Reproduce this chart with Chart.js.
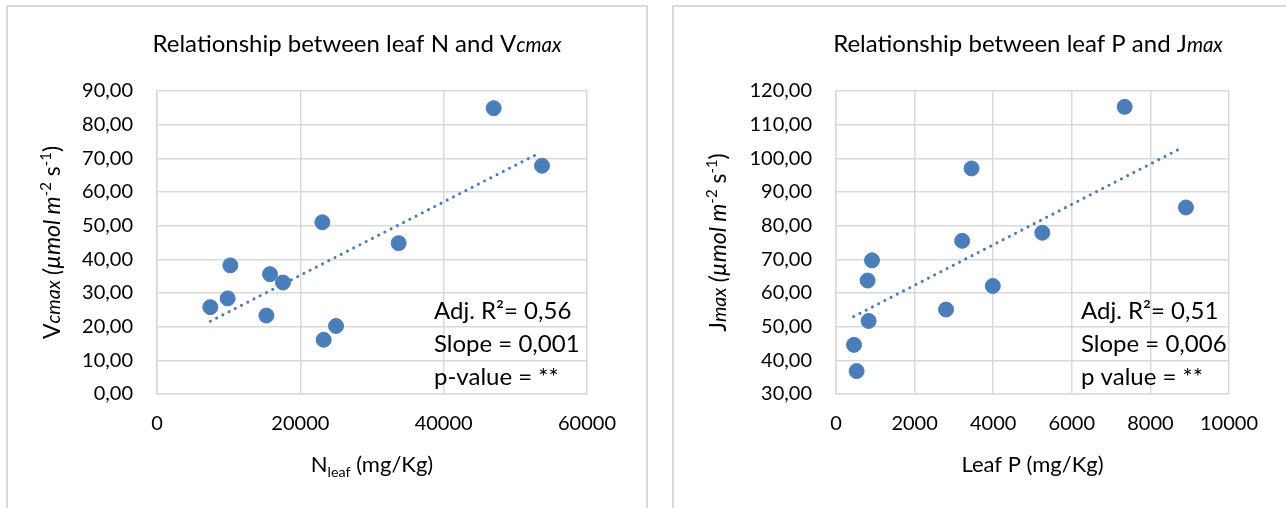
<!DOCTYPE html>
<html>
<head>
<meta charset="utf-8">
<script src="https://cdn.jsdelivr.net/npm/chart.js@4/dist/chart.umd.min.js"></script>
<style>
  body { margin: 0; background: #fff; width: 1286px; height: 508px; overflow: hidden; position: relative; }
  .frame { position: absolute; border: 2px solid #d9d9d9; box-sizing: border-box; }
  canvas { position: absolute; top: 0; }
</style>
</head>
<body>
<div class="frame" style="left:6px;top:5px;width:642px;height:530px"></div>
<div class="frame" style="left:672px;top:5px;width:640px;height:530px"></div>
<canvas id="chartN" width="660" height="508" style="left:0"></canvas>
<canvas id="chartP" width="626" height="508" style="left:660px"></canvas>
<script>
// leaf N vs Vcmax
const nLeaf = [7440, 9860, 10230, 15260, 15770, 17580, 23070, 23260, 24980, 33720, 46980, 53720];
const vcmax = [25.8, 28.4, 38.2, 23.3, 35.6, 33.1, 51.0, 16.1, 20.2, 44.8, 84.9, 67.8];
const nTrendX = [7440, 53000];
const nTrendY = [21.6, 71.2];
const nStats = ['Adj. R²= 0,56', 'Slope = 0,001', 'p-value = **'];

// leaf P vs Jmax
const pLeaf = [916, 805, 830, 458, 525, 2800, 3210, 3450, 3990, 5250, 7345, 8905];
const jmax = [69.7, 63.7, 51.7, 44.6, 36.8, 55.1, 75.5, 97.0, 62.1, 77.9, 115.3, 85.4];
const pTrendX = [450, 8760];
const pTrendY = [53.0, 102.9];
const pStats = ['Adj. R²= 0,51', 'Slope = 0,006', 'p value = **'];

const FONT = 'Lato, "Open Sans", sans-serif';
const BLUE = '#4a7ebb';
const GRID = '#d9d9d9';

function font(size, italic) {
  return (italic ? 'italic ' : '') + size + 'px ' + FONT;
}

// draws one line made of pieces: italic, smaller, superscript or subscript
function drawRuns(ctx, runs, x, y, size, align) {
  const parts = runs.map(r => {
    const s = (r.sup || r.sub) ? size * 0.65 : (r.small ? size * 0.85 : size);
    ctx.font = font(s, r.italic);
    return { r: r, s: s, w: ctx.measureText(r.text).width };
  });
  const total = parts.reduce((a, p) => a + p.w, 0);
  let cx = align === 'center' ? x - total / 2 : x;
  ctx.textAlign = 'left';
  ctx.textBaseline = 'alphabetic';
  parts.forEach(p => {
    ctx.font = font(p.s, p.r.italic);
    const dy = p.r.sup ? -size * 0.38 : (p.r.sub ? size * 0.22 : 0);
    ctx.fillText(p.r.text, cx, y + dy);
    cx += p.w;
  });
}

function labelsPlugin(cfg) {
  return {
    id: 'labels',
    afterDraw(chart) {
      const ctx = chart.ctx;
      const area = chart.chartArea;
      ctx.save();
      ctx.fillStyle = '#000';
      drawRuns(ctx, cfg.title, cfg.titleX, 52, 24, 'center');
      drawRuns(ctx, cfg.xTitle, (area.left + area.right) / 2, 472, 22, 'center');
      // rotated y axis title
      ctx.save();
      ctx.translate(cfg.yTitleX, (area.top + area.bottom) / 2);
      ctx.rotate(-Math.PI / 2);
      drawRuns(ctx, cfg.yTitle, 0, 0, 23, 'center');
      ctx.restore();
      cfg.stats.forEach((line, i) => {
        drawRuns(ctx, [{ text: line }], cfg.statsX, 319 + i * 33, 24, 'left');
      });
      ctx.restore();
    }
  };
}

function commaTicks(v) {
  return v.toFixed(2).replace('.', ',');
}

function makeChart(id, xs, ys, tx, ty, scales, yWidth, rightPad, labels) {
  const points = xs.map((x, i) => ({ x: x, y: ys[i] }));
  const trend = tx.map((x, i) => ({ x: x, y: ty[i] }));
  return new Chart(document.getElementById(id), {
    type: 'scatter',
    data: {
      datasets: [
        {
          data: points,
          backgroundColor: BLUE,
          borderColor: BLUE,
          pointRadius: 7.5,
          pointHoverRadius: 7.5,
          order: 1
        },
        {
          data: trend,
          showLine: true,
          borderColor: BLUE,
          borderWidth: 3,
          borderDash: [0.1, 6.9],
          borderCapStyle: 'round',
          pointRadius: 0,
          order: 2
        }
      ]
    },
    options: {
      responsive: false,
      animation: false,
      layout: { padding: { left: 0, top: 91, right: rightPad, bottom: 0 } },
      plugins: { legend: { display: false }, tooltip: { enabled: false } },
      scales: {
        x: {
          type: 'linear',
          min: scales.xMin, max: scales.xMax,
          afterFit: s => { s.height = 114; },
          ticks: { stepSize: scales.xStep, padding: 18, color: '#000', font: { family: FONT, size: 20 },
                   callback: v => String(v) },
          grid: { color: GRID, lineWidth: 1.5, drawTicks: false },
          border: { color: GRID, width: 1.5 }
        },
        y: {
          type: 'linear',
          min: scales.yMin, max: scales.yMax,
          afterFit: s => { s.width = yWidth; },
          ticks: { stepSize: 10, padding: 24, color: '#000', font: { family: FONT, size: 20 },
                   callback: commaTicks },
          grid: { color: GRID, lineWidth: 1.5, drawTicks: false },
          border: { color: GRID, width: 1.5 }
        }
      }
    },
    plugins: [labelsPlugin(labels)]
  });
}

makeChart('chartN', nLeaf, vcmax, nTrendX, nTrendY,
  { xMin: 0, xMax: 60000, xStep: 20000, yMin: 0, yMax: 90 }, 157, 73,
  {
    title: [{ text: 'Relationship between leaf N and V' }, { text: 'cmax', italic: true, small: true }],
    titleX: 357,
    xTitle: [{ text: 'N' }, { text: 'leaf', sub: true }, { text: ' (mg/Kg)' }],
    yTitle: [{ text: 'V' }, { text: 'cmax', italic: true, small: true }, { text: ' (µmol m', italic: true },
             { text: '-2', sup: true }, { text: ' s' }, { text: '-1', sup: true }, { text: ')' }],
    yTitleX: 60,
    stats: nStats,
    statsX: 434
  });

makeChart('chartP', pLeaf, jmax, pTrendX, pTrendY,
  { xMin: 0, xMax: 10000, xStep: 2000, yMin: 30, yMax: 120 }, 176, 57,
  {
    title: [{ text: 'Relationship between leaf P and J' }, { text: 'max', italic: true, small: true }],
    titleX: 368,
    xTitle: [{ text: 'Leaf P (mg/Kg)' }],
    yTitle: [{ text: 'J' }, { text: 'max', italic: true, small: true }, { text: ' (µmol m', italic: true },
             { text: '-2', sup: true }, { text: ' s' }, { text: '-1', sup: true }, { text: ')' }],
    yTitleX: 66,
    stats: pStats,
    statsX: 421
  });
</script>
</body>
</html>
